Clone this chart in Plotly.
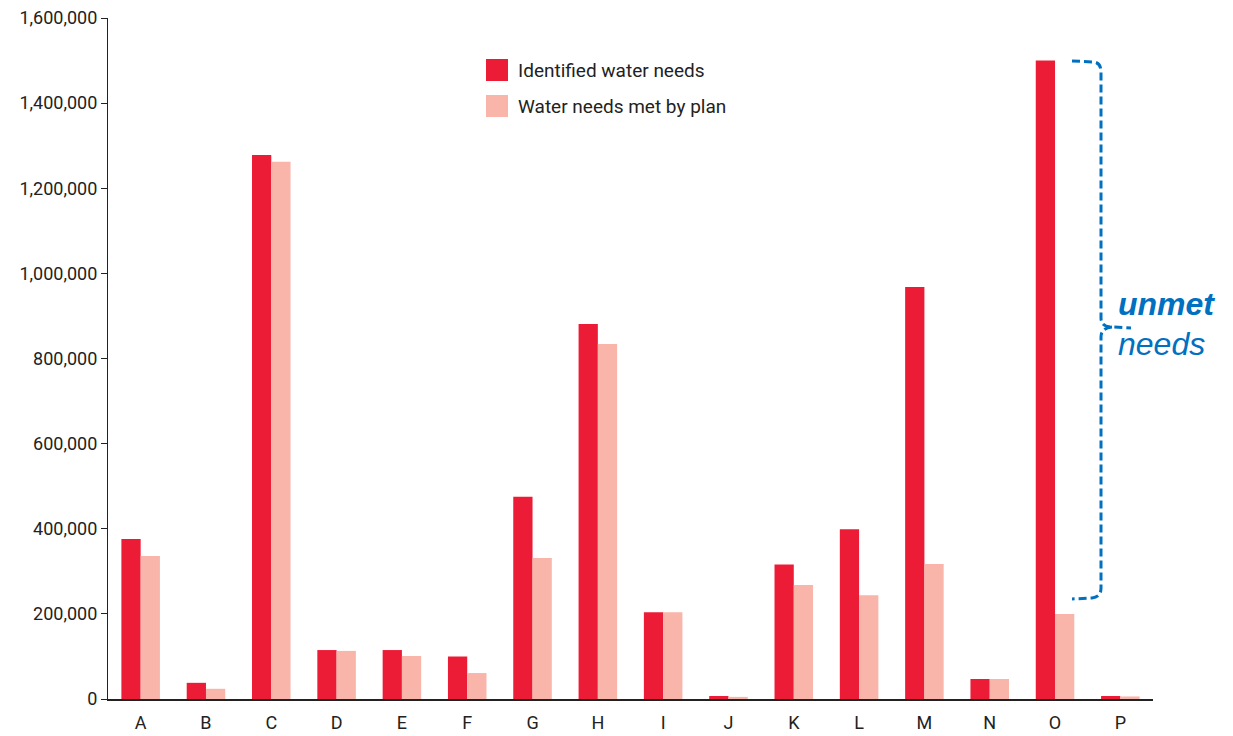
import plotly.graph_objects as go

categories = list("ABCDEFGHIJKLMNOP")
identified_needs = [376000, 38000, 1278000, 115000, 115000, 100000, 475000, 881000,
                    204000, 7000, 316000, 399000, 968000, 47000, 1500000, 7000]
needs_met = [336000, 24000, 1262000, 113000, 101000, 61000, 331000, 834000,
             204000, 5000, 268000, 244000, 317000, 47000, 200000, 6000]
y_ticks = [0, 200000, 400000, 600000, 800000, 1000000, 1200000, 1400000, 1600000]

RED = "#ED1C36"
PINK = "#F9B5AA"
BLUE = "#0070C0"
FONT = "Roboto, sans-serif"

W, H = 1233, 736
L, R, T, B = 108, 80, 18, 37
pw, ph = W - L - R, H - T - B

def px(x):
    return (x - L) / pw

def py(y):
    return (H - B - y) / ph

fig = go.Figure()
fig.add_trace(go.Bar(x=categories, y=identified_needs, name="Identified water needs",
                     marker=dict(color=RED, line_width=0), showlegend=False))
fig.add_trace(go.Bar(x=categories, y=needs_met, name="Water needs met by plan",
                     marker=dict(color=PINK, line_width=0), showlegend=False))

shapes = []
annotations = []
# custom legend
for i, (name, col) in enumerate([("Identified water needs", RED), ("Water needs met by plan", PINK)]):
    yc = 70 + i * 36
    shapes.append(dict(type="rect", xref="paper", yref="paper",
                       x0=px(486), x1=px(508), y0=py(yc - 11), y1=py(yc + 11),
                       fillcolor=col, line_width=0))
    annotations.append(dict(xref="paper", yref="paper", x=px(516), y=py(yc),
                            xanchor="left", yanchor="middle", showarrow=False,
                            text=name, font=dict(family=FONT, size=19, color="#222")))

# bracket for unmet needs
def P(x, y):
    return f"{px(x):.5f},{py(y):.5f}"

path = ("M " + P(1072, 61) + " L " + P(1094, 62) + " Q " + P(1101, 63) + " " + P(1101, 72) +
        " L " + P(1101, 318) + " Q " + P(1101, 327) + " " + P(1112, 327) + " L " + P(1131, 328) +
        " M " + P(1112, 327) + " Q " + P(1101, 328) + " " + P(1101, 337) +
        " L " + P(1101, 588) + " Q " + P(1101, 597) + " " + P(1092, 598) + " L " + P(1072, 599))
shapes.append(dict(type="path", xref="paper", yref="paper", path=path,
                   line=dict(color=BLUE, width=3, dash="8px,4px")))
annotations.append(dict(xref="paper", yref="paper", x=px(1116), y=py(304),
                        xanchor="left", yanchor="middle", showarrow=False,
                        text="<b><i>unmet</i></b>",
                        font=dict(family="Liberation Sans, Arial, sans-serif", size=32, color=BLUE)))
annotations.append(dict(xref="paper", yref="paper", x=px(1116), y=py(344),
                        xanchor="left", yanchor="middle", showarrow=False,
                        text="<i>needs</i>",
                        font=dict(family="Liberation Sans, Arial, sans-serif", size=32, color=BLUE)))

fig.update_layout(
    width=W, height=H,
    margin=dict(l=L, r=R, t=T, b=B),
    paper_bgcolor="white", plot_bgcolor="white",
    barmode="group", bargap=0.41, bargroupgap=0,
    shapes=shapes, annotations=annotations,
    xaxis=dict(range=[-0.5, 15.5], showgrid=False, showline=True, linecolor="#222",
               linewidth=1.5, ticks="", tickfont=dict(family=FONT, size=18, color="#222"),
               ticklabelstandoff=7, zeroline=False, fixedrange=True, automargin=False),
    yaxis=dict(range=[0, 1600000], tickvals=y_ticks, tickformat=",d", showgrid=False,
               showline=True, linecolor="#222", linewidth=1.2, ticks="outside", ticklen=6,
               tickcolor="#222", tickfont=dict(family=FONT, size=18, color="#222"),
               zeroline=False, fixedrange=True, automargin=False),
)

fig.write_html("out.html")
